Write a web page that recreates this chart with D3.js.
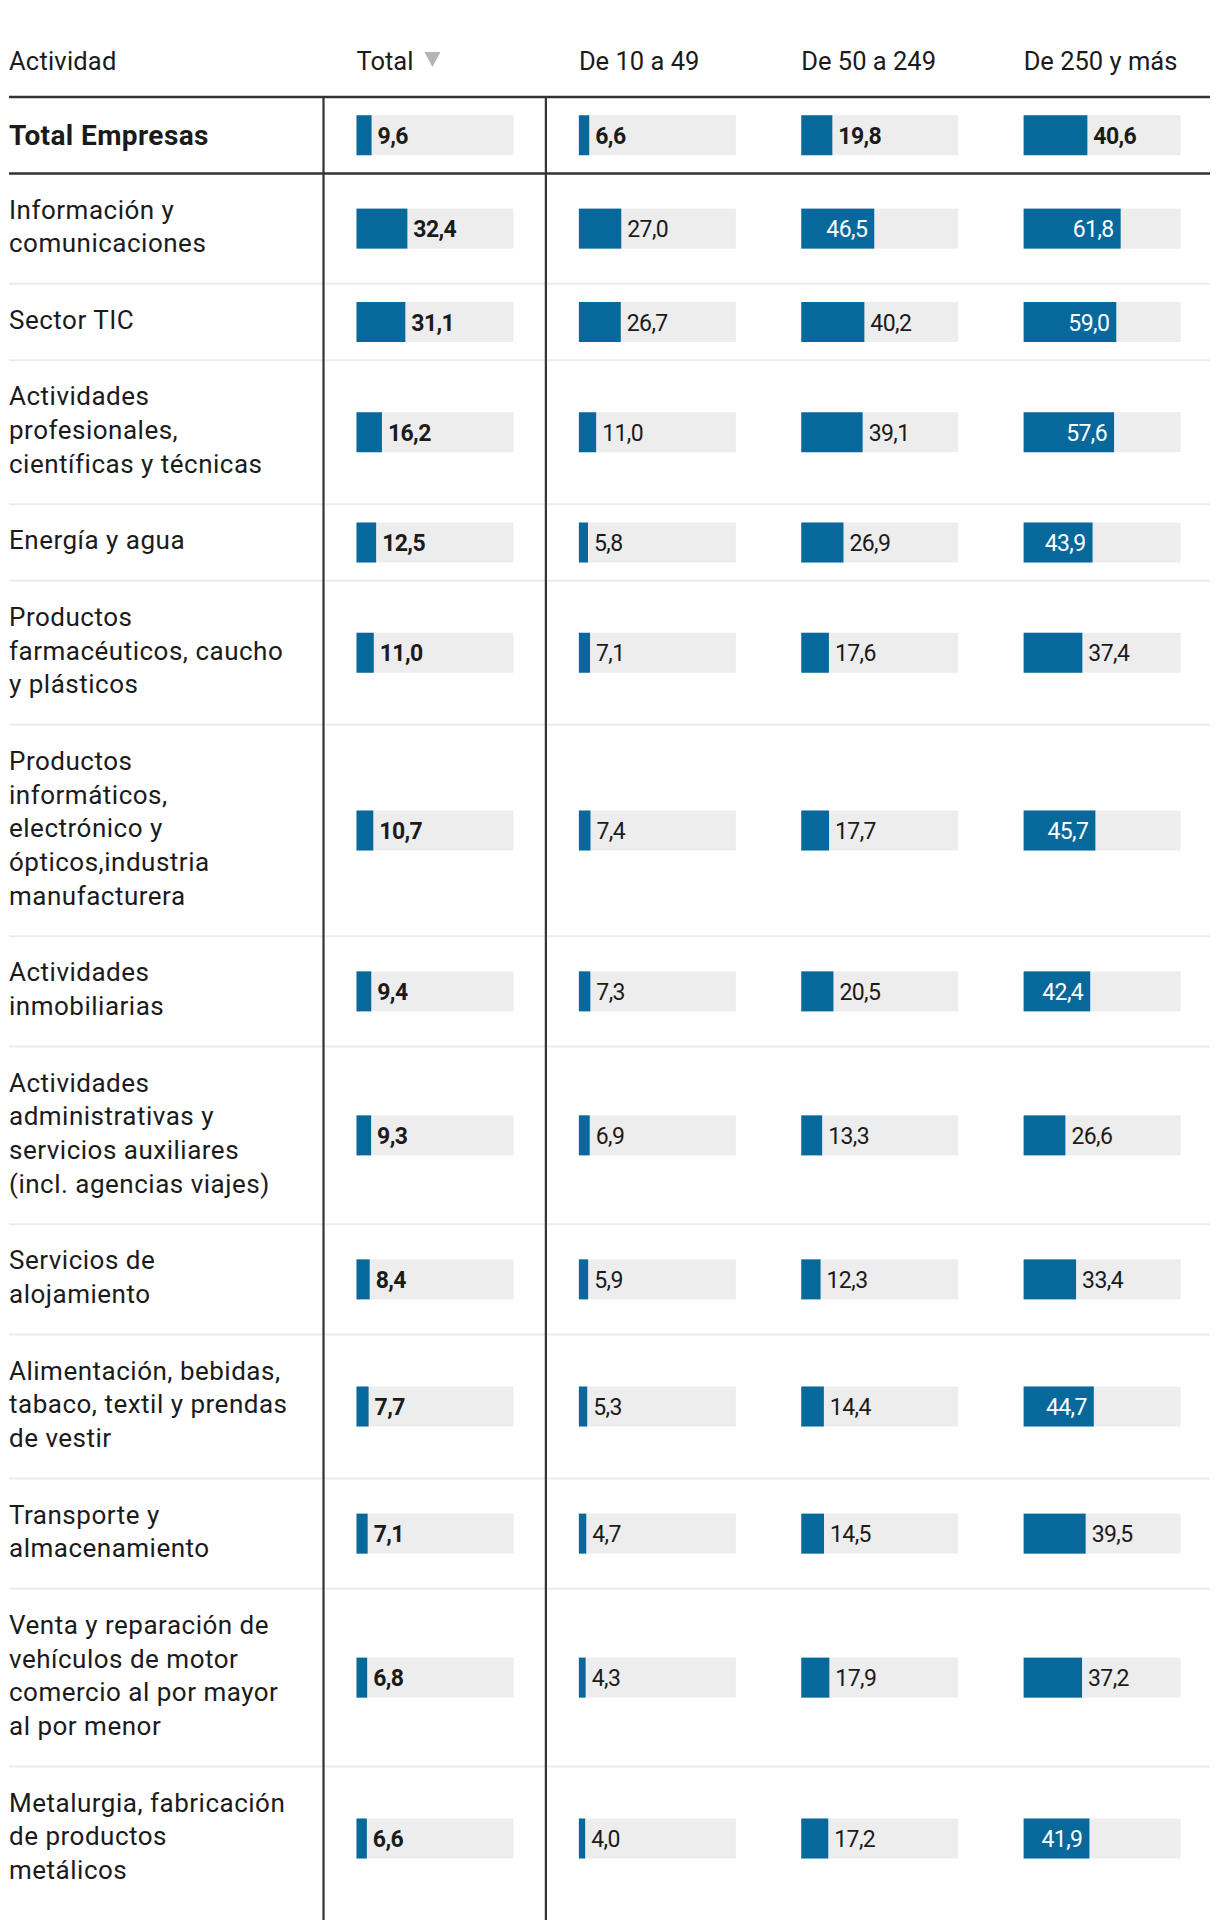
<!DOCTYPE html>
<html><head><meta charset="utf-8">
<script src="https://cdn.jsdelivr.net/npm/d3@7"></script>
<style>
body{margin:0;background:#fff;}
svg{display:block;font-family:Roboto,"Noto Sans",sans-serif;}
</style></head><body>
<svg id="chart" width="1220" height="1920"></svg>
<script>
// ---- data ----
const labelHeader = "Actividad";
const columnHeaders = ["Total", "De 10 a 49", "De 50 a 249", "De 250 y más"];
const categories = [
  "Total Empresas",
  "Información y|comunicaciones",
  "Sector TIC",
  "Actividades|profesionales,|científicas y técnicas",
  "Energía y agua",
  "Productos|farmacéuticos, caucho|y plásticos",
  "Productos|informáticos,|electrónico y|ópticos,industria|manufacturera",
  "Actividades|inmobiliarias",
  "Actividades|administrativas y|servicios auxiliares|(incl. agencias viajes)",
  "Servicios de|alojamiento",
  "Alimentación, bebidas,|tabaco, textil y prendas|de vestir",
  "Transporte y|almacenamiento",
  "Venta y reparación de|vehículos de motor|comercio al por mayor|al por menor",
  "Metalurgia, fabricación|de productos|metálicos"
];
const totalValues  = [9.6, 32.4, 31.1, 16.2, 12.5, 11.0, 10.7, 9.4, 9.3, 8.4, 7.7, 7.1, 6.8, 6.6];
const smallValues  = [6.6, 27.0, 26.7, 11.0, 5.8, 7.1, 7.4, 7.3, 6.9, 5.9, 5.3, 4.7, 4.3, 4.0];
const mediumValues = [19.8, 46.5, 40.2, 39.1, 26.9, 17.6, 17.7, 20.5, 13.3, 12.3, 14.4, 14.5, 17.9, 17.2];
const largeValues  = [40.6, 61.8, 59.0, 57.6, 43.9, 37.4, 45.7, 42.4, 26.6, 33.4, 44.7, 39.5, 37.2, 41.9];
const series = [totalValues, smallValues, mediumValues, largeValues];

// ---- layout ----
const W = 1220, H = 1920;
const left = 9, right = 1210;
const headerBaseline = 70;
const tableTop = 97;
const lineH = 33.75, rowPad = 42.75;
const barH = 40, barPad = 33, trackW = 157;
const blue = "#07689b", track = "#ededed", ink = "#1b1b1b", rule = "#333";
const fmt = v => d3.format(".1f")(v).replace(".", ",");

const svg = d3.select("#chart");

const col = d3.scaleBand().domain(columnHeaders).range([323.5, 1213]).paddingInner(0).paddingOuter(0);
const x = d3.scaleLinear().domain([0, 100]).range([0, trackW]);

// rows
const rows = categories.map((c, i) => ({ lines: c.split("|"), i }));
let yAcc = tableTop;
rows.forEach(r => { r.h = rowPad + lineH * r.lines.length; r.y = yAcc; yAcc += r.h; });

// header
const hdr = svg.append("g").attr("font-size", 25.5).attr("fill", ink);
hdr.append("text").attr("x", left).attr("y", headerBaseline).attr("letter-spacing", 0.2).text(labelHeader);
columnHeaders.forEach((h, j) => {
  const t = hdr.append("text").attr("x", col(h) + barPad).attr("y", headerBaseline).text(h);
  if (j === 0) {
    const bb = t.node().getBBox();
    const tx = bb.x + bb.width + 11;
    svg.append("path")
      .attr("d", `M${tx},52 L${tx + 16},52 L${tx + 8},67 Z`)
      .attr("fill", "#b5b5b5");
  }
});

// light separators
svg.append("g").selectAll("line").data(rows.slice(2)).join("line")
  .attr("x1", left).attr("x2", right)
  .attr("y1", d => d.y).attr("y2", d => d.y)
  .attr("stroke", "#ececec").attr("stroke-width", 2.2);

// rows content
const rg = svg.append("g").selectAll("g").data(rows).join("g")
  .attr("transform", d => `translate(0,${d.y})`);

rg.each(function (r) {
  const g = d3.select(this);
  const isTotalRow = r.i === 0;
  const txt = g.append("text").attr("fill", ink)
    .attr("font-size", isTotalRow ? 28 : 26)
    .attr("letter-spacing", isTotalRow ? 0.4 : 0.5)
    .attr("font-weight", isTotalRow ? 700 : 400);
  r.lines.forEach((ln, k) => {
    txt.append("tspan").attr("x", left)
      .attr("y", isTotalRow ? r.h / 2 + 10 : rowPad / 2 + lineH * k + lineH * 0.7)
      .text(ln);
  });
  const cy = r.h / 2;
  series.forEach((vals, j) => {
    const v = vals[r.i];
    const x0 = col(columnHeaders[j]) + barPad;
    g.append("rect").attr("x", x0).attr("y", cy - barH / 2)
      .attr("width", x(100)).attr("height", barH).attr("fill", track);
    g.append("rect").attr("x", x0).attr("y", cy - barH / 2)
      .attr("width", x(v)).attr("height", barH).attr("fill", blue);
    const bold = j === 0 || isTotalRow;
    const inside = j > 0 && v > 41;
    g.append("text")
      .attr("x", inside ? x0 + x(v) - 7 : x0 + x(v) + 6)
      .attr("y", cy + 8.5)
      .attr("text-anchor", inside ? "end" : "start")
      .attr("font-size", 23)
      .attr("font-weight", bold ? 700 : 400)
      .attr("letter-spacing", -0.6)
      .attr("fill", inside ? "#fff" : ink)
      .text(fmt(v));
  });
});

// thick rules around total row
svg.append("g").selectAll("line").data([rows[0].y, rows[1].y]).join("line")
  .attr("x1", left).attr("x2", right).attr("y1", d => d).attr("y2", d => d)
  .attr("stroke", rule).attr("stroke-width", 2.5);

// vertical rules
svg.append("g").selectAll("line").data(columnHeaders.slice(0, 2)).join("line")
  .attr("x1", d => col(d)).attr("x2", d => col(d))
  .attr("y1", tableTop).attr("y2", H)
  .attr("stroke", rule).attr("stroke-width", 2.2);
</script>
</body></html>
